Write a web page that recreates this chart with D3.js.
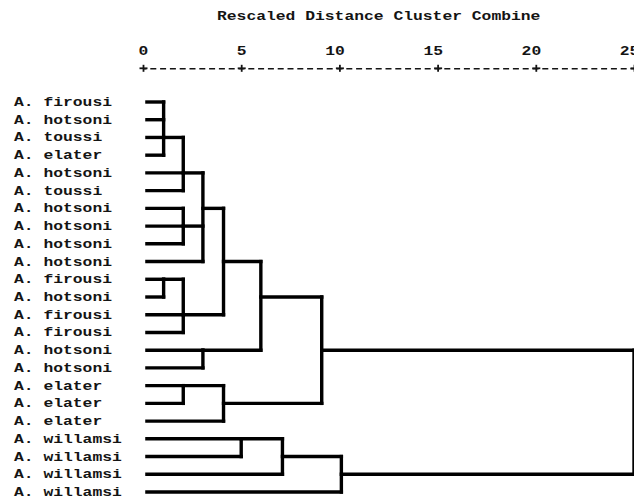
<!DOCTYPE html>
<html>
<head>
<meta charset="utf-8">
<script src="https://cdn.jsdelivr.net/npm/d3@7/dist/d3.min.js"></script>
<style>
  html, body { margin: 0; padding: 0; background: #fff; }
  svg { display: block; }
  text { font-family: "Liberation Mono", "DejaVu Sans Mono", monospace; font-weight: bold; fill: #141414; }
</style>
</head>
<body>
<div id="chart"></div>
<script>
// Leaf labels, top to bottom
const leafLabels = [
  "A. firousi", "A. hotsoni", "A. toussi", "A. elater", "A. hotsoni", "A. toussi",
  "A. hotsoni", "A. hotsoni", "A. hotsoni", "A. hotsoni", "A. firousi", "A. hotsoni",
  "A. firousi", "A. firousi", "A. hotsoni", "A. hotsoni", "A. elater", "A. elater",
  "A. elater", "A. willamsi", "A. willamsi", "A. willamsi", "A. willamsi"
];

// Agglomeration steps: members (L = leaf row, M = earlier step), rescaled distance,
// and the row on which the merged cluster continues to the right
const mergeMembers = [
  ["L1", "L2", "L3", "L4"],  // M1
  ["M1", "L5", "L6"],        // M2
  ["L7", "L8", "L9"],        // M3
  ["M2", "M3", "L10"],       // M4
  ["L11", "L12"],            // M5
  ["M5", "L13", "L14"],      // M6
  ["M4", "M6"],              // M7
  ["L15", "L16"],            // M8
  ["M7", "M8"],              // M9
  ["L17", "L18"],            // M10
  ["M10", "L19"],            // M11
  ["M9", "M11"],             // M12
  ["L20", "L21"],            // M13
  ["M13", "L22"],            // M14
  ["M14", "L23"],            // M15
  ["M12", "M15"]             // M16 (root)
];
const mergeDistances = [1.05, 2.05, 2.05, 3.05, 1.05, 2.05, 4.1, 3.05, 6.0, 2.05, 4.1, 9.1, 5.0, 7.1, 10.1, 25];
const mergeExitRows = [3, 5, 8, 7, 11, 13, 10, 15, 12, 17, 18, 15, 20, 21, 22, null];

// Axis
const axisTicks = [0, 5, 10, 15, 20, 25];
const axisTitle = "Rescaled Distance Cluster Combine";

const width = 634, height = 499;
const charW = 9.8;          // monospaced cell width
const leafStart = 0.2;      // leaf lines begin just right of zero

const svg = d3.select("#chart").append("svg")
  .attr("width", width).attr("height", height);

const x = d3.scaleLinear().domain([0, 25]).range([143, 634]);
const y = d3.scalePoint().domain(d3.range(1, leafLabels.length + 1)).range([102, 492]);

// Title
svg.append("text")
  .attr("x", 217).attr("y", 20)
  .attr("font-size", 12.5)
  .attr("textLength", axisTitle.length * charW)
  .attr("lengthAdjust", "spacingAndGlyphs")
  .text(axisTitle);

// Top axis: dashed rule with "+" ticks
const axisY = 68.3;
const axisG = svg.append("g")
  .attr("transform", `translate(0,${axisY})`)
  .call(d3.axisTop(x).tickValues(axisTicks).tickSizeOuter(0).tickSizeInner(3.5).tickPadding(9.8)
    .tickFormat(d3.format("d")));

axisG.select(".domain")
  .attr("stroke", "#141414").attr("stroke-width", 1.4)
  .attr("stroke-dasharray", `6 ${charW - 6}`)
  .attr("stroke-dashoffset", 3);

axisG.selectAll(".tick line")
  .attr("stroke", "#141414").attr("stroke-width", 1.8)
  .attr("y1", -3.5).attr("y2", 3.5);
axisG.selectAll(".tick").append("line")
  .attr("stroke", "#141414").attr("stroke-width", 1.8)
  .attr("x1", -4).attr("x2", 4).attr("y1", 0).attr("y2", 0);

axisG.selectAll(".tick text")
  .attr("fill", "#141414")
  .attr("font-family", null)
  .attr("font-size", 12.5)
  .attr("text-anchor", "end")
  .attr("x", charW / 2)
  .attr("textLength", d => String(d).length * charW)
  .attr("lengthAdjust", "spacingAndGlyphs");

// Leaf labels, vertically centred on their rows
svg.append("g").selectAll("text")
  .data(leafLabels)
  .join("text")
  .attr("x", 14)
  .attr("y", (d, i) => y(i + 1) + 4)
  .attr("font-size", 12.5)
  .attr("textLength", d => d.length * charW)
  .attr("lengthAdjust", "spacingAndGlyphs")
  .text(d => d);

// Dendrogram links
const rowOf = id => id[0] === "L" ? +id.slice(1) : mergeExitRows[+id.slice(1) - 1];
const startOf = id => id[0] === "L" ? leafStart : mergeDistances[+id.slice(1) - 1];

const segments = [];
mergeMembers.forEach((members, i) => {
  const h = mergeDistances[i];
  const rows = members.map(rowOf);
  segments.push([[h, d3.min(rows)], [h, d3.max(rows)]]);
  members.forEach(m => segments.push([[startOf(m), rowOf(m)], [h, rowOf(m)]]));
});

const line = d3.line().x(d => x(d[0])).y(d => y(d[1]));

svg.append("g")
  .attr("fill", "none")
  .attr("stroke", "#000")
  .attr("stroke-width", 3.4)
  .attr("stroke-linecap", "square")
  .selectAll("path")
  .data(segments)
  .join("path")
  .attr("d", line);
</script>
</body>
</html>
